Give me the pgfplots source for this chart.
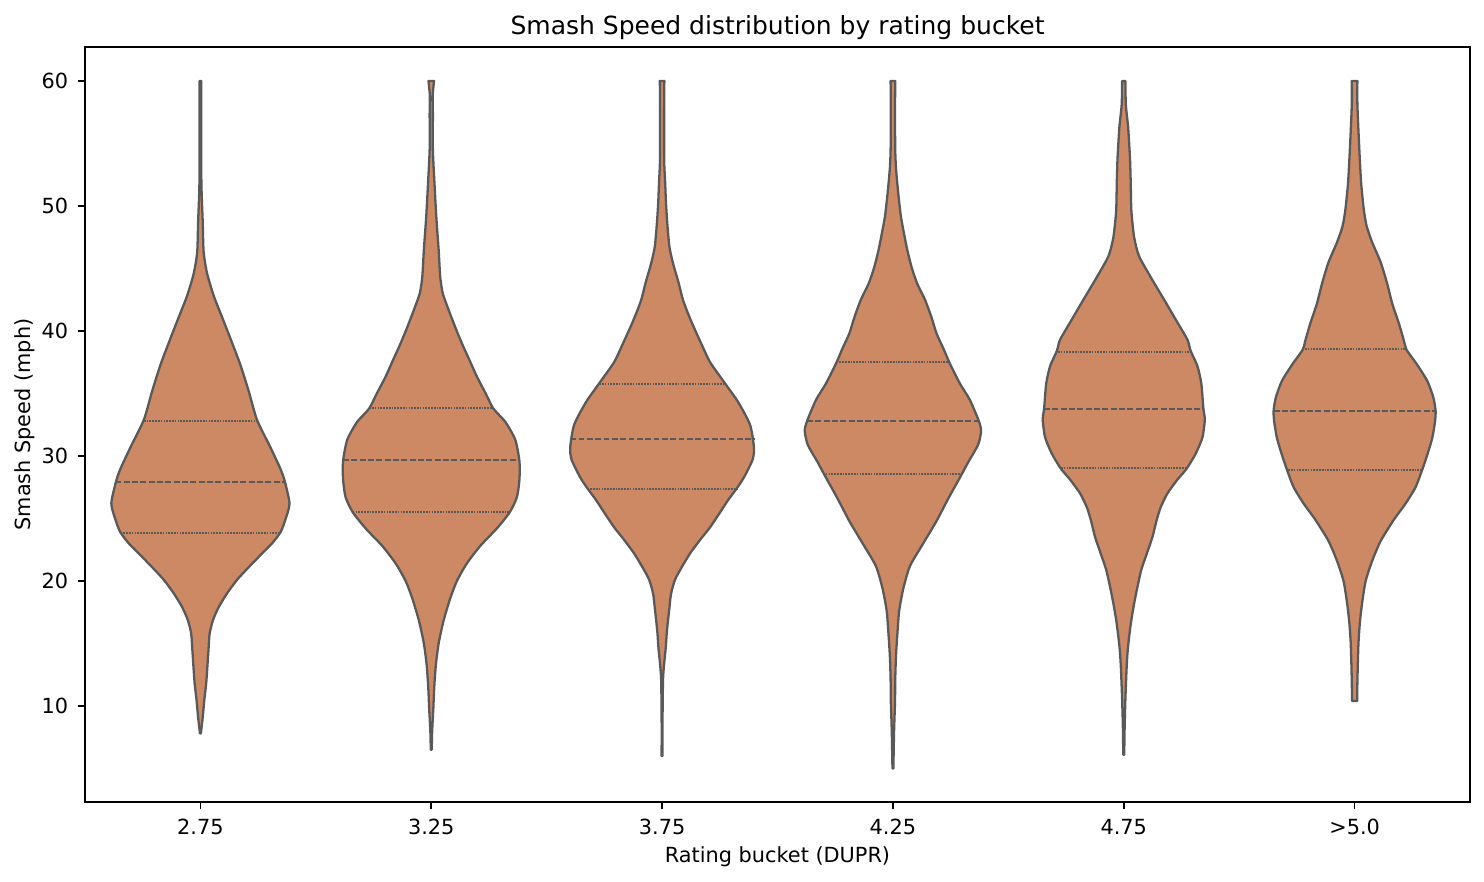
\documentclass[border=0pt]{standalone}
\usepackage{fontspec}
\setmainfont{DejaVu Sans}
\usepackage{pgfplots}
\usepackage{pgfplotstable}
\usepgfplotslibrary{fillbetween}
\pgfplotsset{compat=1.18}
\definecolor{vfill}{RGB}{204,137,99}
\definecolor{vline}{RGB}{89,89,89}

% violin outlines: v = speed (mph), w = half width (category units)
\pgfplotstableread{
v w
60.0 0.004
52.2 0.004
48.7 0.010
46.3 0.014
44.6 0.029
42.8 0.058
41.1 0.094
39.4 0.130
37.3 0.173
35.2 0.209
32.9 0.245
30.7 0.303
29.0 0.346
28.0 0.365
26.2 0.386
24.9 0.368
23.9 0.347
23.0 0.310
22.2 0.267
21.1 0.209
20.1 0.159
19.0 0.115
17.9 0.079
16.9 0.055
15.8 0.040
14.5 0.035
13.1 0.030
11.8 0.025
10.5 0.017
9.1 0.010
7.8 0.002
}\vA

\pgfplotstableread{
v w
60.0 0.012
58.8 0.006
57.4 0.007
54.5 0.007
51.8 0.014
49.1 0.022
46.5 0.032
44.3 0.039
43.0 0.050
41.7 0.075
40.3 0.104
39.0 0.133
37.7 0.165
36.3 0.199
35.0 0.236
33.8 0.269
32.7 0.322
31.3 0.364
29.6 0.382
28.1 0.382
26.7 0.371
25.5 0.340
24.2 0.284
22.8 0.212
21.4 0.154
20.0 0.111
18.6 0.082
16.8 0.053
15.0 0.032
13.3 0.020
11.5 0.013
9.8 0.009
8.0 0.004
6.5 0.002
}\vB

\pgfplotstableread{
v w
60.0 0.010
58.8 0.009
53.8 0.009
52.0 0.013
50.2 0.017
48.5 0.023
46.7 0.032
45.3 0.049
43.9 0.071
42.4 0.092
40.7 0.128
38.9 0.172
37.5 0.208
35.8 0.273
34.3 0.330
32.5 0.381
30.7 0.398
29.7 0.392
28.3 0.355
27.4 0.323
26.5 0.287
25.4 0.248
24.3 0.208
23.3 0.165
22.2 0.121
21.1 0.085
20.1 0.056
19.0 0.039
17.9 0.032
16.9 0.026
15.8 0.020
14.7 0.016
13.4 0.009
12.1 0.004
9.0 0.002
6.0 0.002
}\vC

\pgfplotstableread{
v w
60.0 0.010
57.3 0.009
54.5 0.010
53.1 0.013
51.8 0.019
50.5 0.026
49.1 0.035
47.8 0.048
46.5 0.062
45.1 0.081
43.8 0.105
42.5 0.139
41.1 0.167
39.8 0.189
38.5 0.221
37.5 0.244
35.8 0.290
34.5 0.333
32.8 0.372
32.0 0.382
30.9 0.369
29.5 0.326
28.5 0.297
26.6 0.240
24.8 0.189
23.0 0.131
21.2 0.074
19.4 0.045
17.6 0.027
15.7 0.019
13.9 0.013
12.1 0.010
10.3 0.009
8.0 0.005
5.0 0.002
}\vD

\pgfplotstableread{
v w
60.0 0.007
58.1 0.009
56.3 0.019
53.8 0.027
52.0 0.030
49.6 0.033
47.5 0.045
46.0 0.066
44.3 0.117
42.5 0.175
40.7 0.232
39.3 0.276
38.4 0.290
37.2 0.319
35.8 0.336
33.8 0.345
32.9 0.351
31.5 0.341
30.2 0.312
29.0 0.273
28.1 0.232
27.0 0.189
25.9 0.160
24.9 0.143
23.5 0.124
22.2 0.100
20.9 0.076
19.5 0.059
18.2 0.045
16.9 0.033
15.5 0.023
14.2 0.016
12.9 0.012
11.5 0.009
10.5 0.007
8.5 0.004
6.1 0.002
}\vE

\pgfplotstableread{
v w
60.0 0.012
58.2 0.012
55.9 0.017
53.6 0.023
51.7 0.029
49.7 0.040
48.4 0.052
47.1 0.076
45.5 0.113
43.8 0.141
42.2 0.163
40.6 0.192
39.2 0.214
38.5 0.225
37.3 0.271
36.0 0.315
34.7 0.341
33.6 0.351
32.7 0.348
31.4 0.336
30.1 0.315
28.9 0.293
27.5 0.264
26.2 0.221
24.9 0.170
23.2 0.113
21.6 0.076
20.0 0.048
18.3 0.033
16.7 0.023
15.1 0.017
13.4 0.014
11.8 0.012
10.4 0.011
}\vF

\pgfplotsset{
  violinside/.style={draw=none, forget plot, smooth, tension=0.4},
  violinbody/.style={fill=vfill, draw=vline, line width=1.1pt, line join=round},
  qmed/.style={vline, line width=0.75pt, dash pattern=on 2.8pt off 1.2pt, forget plot},
  qquart/.style={vline, line width=0.7pt, dash pattern=on 0.8pt off 0.55pt, forget plot},
}

\begin{document}
\begin{tikzpicture}
\begin{axis}[
  name=ax,
  scale only axis,
  width=664.8pt, height=362.4pt,
  xmin=-0.5, xmax=5.5,
  ymin=2.32, ymax=62.72,
  xtick={0,1,2,3,4,5},
  xticklabels={2.75,3.25,3.75,4.25,4.75,{>5.0}},
  ytick={10,20,30,40,50,60},
  tick align=outside,
  xtick pos=bottom, ytick pos=left,
  major tick length=3.5pt,
  every tick/.style={black, line width=0.8pt},
  axis line style={black, line width=0.8pt},
  /pgf/number format/assume math mode=true,
  tick label style={font=\fontsize{10}{12}\selectfont},
  xticklabel style={anchor=base, yshift=-11.9pt},
  yticklabel style={anchor=east, xshift=-1.1pt},
  title={Smash Speed distribution by rating bucket},
  title style={at={(axis description cs:0.5,1)}, anchor=base, font=\fontsize{12}{14}\selectfont, inner sep=0pt},
  xlabel={Rating bucket (DUPR)},
  xlabel style={at={(axis description cs:0.5,-0.0795)}, anchor=base, font=\fontsize{10}{12}\selectfont, inner sep=0pt},
  ylabel={Smash Speed (mph)},
  ylabel style={at={(axis description cs:-0.039,0.5)}, anchor=base, font=\fontsize{10}{12}\selectfont, inner sep=0pt},
  clip=false,
]
% violin 2.75
\addplot[violinside, name path=R0] table[x expr={0+\thisrow{w}}, y=v] {\vA};
\addplot[violinside, name path=L0] table[x expr={0-\thisrow{w}}, y=v] {\vA};
\addplot[violinbody] fill between[of=R0 and L0, reverse=true];
% violin 3.25
\addplot[violinside, name path=R1] table[x expr={1+\thisrow{w}}, y=v] {\vB};
\addplot[violinside, name path=L1] table[x expr={1-\thisrow{w}}, y=v] {\vB};
\addplot[violinbody] fill between[of=R1 and L1, reverse=true];
% violin 3.75
\addplot[violinside, name path=R2] table[x expr={2+\thisrow{w}}, y=v] {\vC};
\addplot[violinside, name path=L2] table[x expr={2-\thisrow{w}}, y=v] {\vC};
\addplot[violinbody] fill between[of=R2 and L2, reverse=true];
% violin 4.25
\addplot[violinside, name path=R3] table[x expr={3+\thisrow{w}}, y=v] {\vD};
\addplot[violinside, name path=L3] table[x expr={3-\thisrow{w}}, y=v] {\vD};
\addplot[violinbody] fill between[of=R3 and L3, reverse=true];
% violin 4.75
\addplot[violinside, name path=R4] table[x expr={4+\thisrow{w}}, y=v] {\vE};
\addplot[violinside, name path=L4] table[x expr={4-\thisrow{w}}, y=v] {\vE};
\addplot[violinbody] fill between[of=R4 and L4, reverse=true];
% violin >5.0
\addplot[violinside, name path=R5] table[x expr={5+\thisrow{w}}, y=v] {\vF};
\addplot[violinside, name path=L5] table[x expr={5-\thisrow{w}}, y=v] {\vF};
\addplot[violinbody] fill between[of=R5 and L5, reverse=true];

% quartile lines
\addplot[qquart] coordinates {(-0.245,32.80) (0.245,32.80)};
\addplot[qmed]   coordinates {(-0.368,27.92) (0.368,27.92)};
\addplot[qquart] coordinates {(-0.346,23.84) (0.346,23.84)};

\addplot[qquart] coordinates {(0.731,33.84) (1.269,33.84)};
\addplot[qmed]   coordinates {(0.618,29.68) (1.382,29.68)};
\addplot[qquart] coordinates {(0.660,25.52) (1.340,25.52)};

\addplot[qquart] coordinates {(1.727,35.76) (2.273,35.76)};
\addplot[qmed]   coordinates {(1.602,31.36) (2.398,31.36)};
\addplot[qquart] coordinates {(1.677,27.36) (2.323,27.36)};

\addplot[qquart] coordinates {(2.756,37.52) (3.244,37.52)};
\addplot[qmed]   coordinates {(2.628,32.80) (3.372,32.80)};
\addplot[qquart] coordinates {(2.697,28.56) (3.303,28.56)};

\addplot[qquart] coordinates {(3.715,38.32) (4.285,38.32)};
\addplot[qmed]   coordinates {(3.655,33.76) (4.345,33.76)};
\addplot[qquart] coordinates {(3.728,29.04) (4.272,29.04)};

\addplot[qquart] coordinates {(4.773,38.56) (5.227,38.56)};
\addplot[qmed]   coordinates {(4.650,33.60) (5.350,33.60)};
\addplot[qquart] coordinates {(4.712,28.88) (5.288,28.88)};
\end{axis}
\pgfresetboundingbox
\path[use as bounding box] ([xshift=-40.8pt,yshift=-37.92pt]ax.south west) rectangle ([xshift=6.72pt,yshift=22.56pt]ax.north east);
\end{tikzpicture}
\end{document}
